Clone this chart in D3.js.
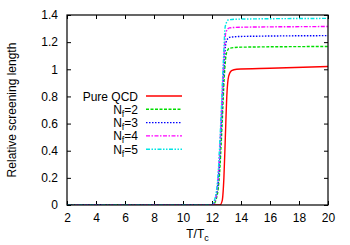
<!DOCTYPE html>
<html>
<head>
<meta charset="utf-8">
<script src="https://cdn.jsdelivr.net/npm/d3@7"></script>
<style>
body { margin: 0; background: #fff; }
text { font-family: "Liberation Sans", Arial, sans-serif; font-size: 12px; fill: #000; }
</style>
</head>
<body>
<div id="target"></div>
<script>
// series data
var xTicks = [2, 4, 6, 8, 10, 12, 14, 16, 18, 20];
var yTicks = [0, 0.2, 0.4, 0.6, 0.8, 1, 1.2, 1.4];

var pureQCD = [[2,0],[12.55,0],[12.7,0.03],[12.82,0.2],[12.92,0.5],[13.02,0.8],[13.15,0.95],[13.35,0.99],[13.7,1.0],[16,1.008],[20,1.02]];
var nf2 = [[2,0],[12.05,0],[12.25,0.03],[12.5,0.2],[12.7,0.6],[12.85,0.95],[13.0,1.12],[13.2,1.155],[14,1.163],[20,1.168]];
var nf3 = [[2,0],[12.0,0],[12.2,0.03],[12.45,0.2],[12.65,0.6],[12.82,1.0],[12.97,1.2],[13.2,1.235],[14,1.242],[20,1.248]];
var nf4 = [[2,0],[12.0,0],[12.2,0.03],[12.42,0.2],[12.62,0.6],[12.8,1.05],[12.95,1.27],[13.2,1.305],[14,1.31],[20,1.315]];
var nf5 = [[2,0],[11.95,0],[12.15,0.03],[12.4,0.2],[12.6,0.6],[12.78,1.05],[12.92,1.32],[13.15,1.365],[14,1.37],[20,1.375]];

var labels = ['Pure QCD', 'Nf=2', 'Nf=3', 'Nf=4', 'Nf=5'];
var subs = [null, '2', '3', '4', '5'];
var colors = ['#ff0000', '#00dd00', '#0000ff', '#ff00ff', '#00e5e5'];
var dashes = [null, '3,1.5', '1.5,1.5', '4,1.5,1.5,1.5', '4,1.5,1.5,1.5,1.5,1.5'];
var series = [pureQCD, nf2, nf3, nf4, nf5];

var width = 350, height = 245;
var margin = {left: 67, right: 22, top: 15, bottom: 40};

var svg = d3.select('#target').append('svg')
	.attr('width', width)
	.attr('height', height);

var x = d3.scaleLinear().domain([2, 20]).range([margin.left, width - margin.right]);
var y = d3.scaleLinear().domain([0, 1.4]).range([height - margin.bottom, margin.top]);

// mirrored inward ticks
var tk = 4;
svg.append('g').attr('transform', 'translate(0,' + y(0) + ')')
	.call(d3.axisBottom(x).tickValues(xTicks).tickSize(-tk).tickPadding(8).tickFormat(d3.format('d')));
svg.append('g').attr('transform', 'translate(0,' + y(1.4) + ')')
	.call(d3.axisTop(x).tickValues(xTicks).tickSize(-tk).tickFormat(''));
svg.append('g').attr('transform', 'translate(' + x(2) + ',0)')
	.call(d3.axisLeft(y).tickValues(yTicks).tickSize(-tk).tickPadding(9).tickFormat(function(d) { return d3.format('~g')(d); }));
svg.append('g').attr('transform', 'translate(' + x(20) + ',0)')
	.call(d3.axisRight(y).tickValues(yTicks).tickSize(-tk).tickFormat(''));

svg.selectAll('.domain').remove();
svg.selectAll('.tick line').attr('stroke', '#000').attr('stroke-width', 1);
svg.selectAll('.tick text').style('font-size', '12px').attr('fill', '#000');

var line = d3.line()
	.x(function(d) { return x(d[0]); })
	.y(function(d) { return y(d[1]); })
	.curve(d3.curveMonotoneX);

svg.append('clipPath').attr('id', 'clip').append('rect')
	.attr('x', x(2)).attr('y', y(1.4))
	.attr('width', x(20) - x(2)).attr('height', y(0) - y(1.4));

svg.append('g').attr('clip-path', 'url(#clip)')
	.selectAll('path')
	.data(series)
	.enter().append('path')
	.attr('d', line)
	.attr('fill', 'none')
	.attr('stroke', function(d, i) { return colors[i]; })
	.attr('stroke-width', 1.4)
	.attr('stroke-dasharray', function(d, i) { return dashes[i]; });

// frame
svg.append('rect')
	.attr('x', x(2)).attr('y', y(1.4))
	.attr('width', x(20) - x(2)).attr('height', y(0) - y(1.4))
	.attr('fill', 'none').attr('stroke', '#000').attr('stroke-width', 1.2);

// legend
var leg = svg.append('g');
labels.forEach(function(lab, i) {
	var ly = 96 + i * 13.3;
	var t = leg.append('text').attr('x', 138).attr('y', ly + 4.5).attr('text-anchor', 'end');
	if (subs[i]) {
		t.append('tspan').text('N');
		t.append('tspan').attr('dy', 3).style('font-size', '9px').text('f');
		t.append('tspan').attr('dy', -3).text('=' + subs[i]);
	} else {
		t.text(lab);
	}
	leg.append('line')
		.attr('x1', 146).attr('x2', 182)
		.attr('y1', ly).attr('y2', ly)
		.attr('stroke', colors[i]).attr('stroke-width', 1.4)
		.attr('stroke-dasharray', dashes[i]);
});

// axis labels
svg.append('text')
	.attr('transform', 'translate(16,' + ((y(0) + y(1.4)) / 2) + ') rotate(-90)')
	.attr('text-anchor', 'middle')
	.text('Relative screening length');

var xl = svg.append('text').attr('x', x(11)).attr('y', 238).attr('text-anchor', 'middle');
xl.append('tspan').text('T/T');
xl.append('tspan').attr('dy', 3).style('font-size', '9px').text('c');
</script>
</body>
</html>
